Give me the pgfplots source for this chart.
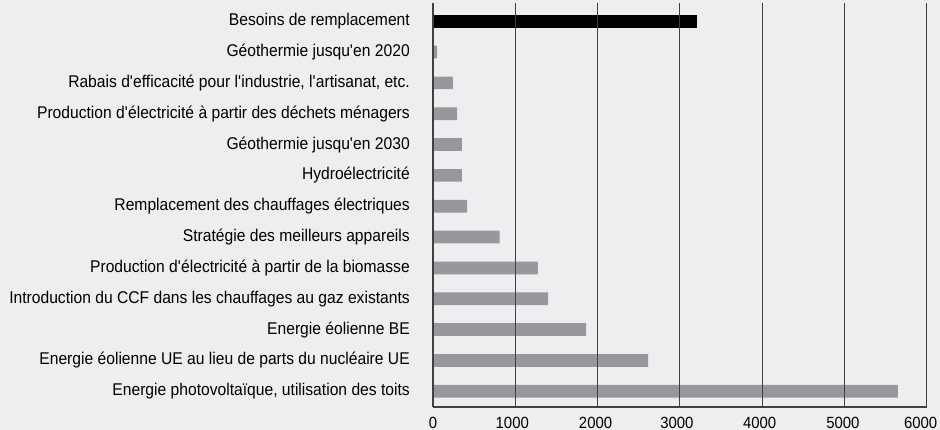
\documentclass[border=0pt]{standalone}
\usepackage{fontspec}
\setmainfont{Liberation Sans}[FakeStretch=0.92]
\usepackage{pgfplots}
\pgfplotsset{compat=1.18}
\definecolor{bg}{HTML}{EDEEF0}
\definecolor{barg}{HTML}{98979C}
\definecolor{gridc}{HTML}{404040}
\newcommand{\q}{\textquotesingle}
\begin{document}
\begin{tikzpicture}[x=1pt,y=1pt]
\fill[bg] (0,0) rectangle (940,430);
\begin{axis}[
  at={(433pt,23pt)}, anchor=south west,
  width=493.7pt, height=404pt, scale only axis,
  axis on top,
  xbar, bar width=12.7pt, bar shift=0pt,
  xmin=0, xmax=6000, ymin=-0.51, ymax=12.59,
  xtick={0,1000,2000,3000,4000,5000,6000},
  xticklabels={0,{\hspace*{-6pt}1000},{\hspace*{-4pt}2000},{\hspace*{-6pt}3000},
    {\hspace*{-5pt}4000},{\hspace*{-3pt}5000},{\hspace*{-12pt}6000}},
  ytick={0,...,12},
  yticklabels={{Energie photovoltaïque, utilisation des toits},
    {Energie éolienne UE au lieu de parts du nucléaire UE},
    {Energie éolienne BE},
    {Introduction du CCF dans les chauffages au gaz existants},
    {Production d\q{}électricité à partir de la biomasse},
    {Stratégie des meilleurs appareils},
    {Remplacement des chauffages électriques},
    {Hydroélectricité},
    {Géothermie jusqu\q{}en 2030},
    {Production d\q{}électricité à partir des déchets ménagers},
    {Rabais d\q{}efficacité pour l\q{}industrie, l\q{}artisanat, etc.},
    {Géothermie jusqu\q{}en 2020},
    {Besoins de remplacement}},
  major tick length=0pt,
  axis x line*=bottom, axis y line*=left,
  axis line style={-, draw=gridc, line width=1.2pt},
  xmajorgrids, grid style={draw=gridc, line width=1.2pt},
  tick label style={text=black},
  yticklabel style={font=\fontsize{17}{19}\selectfont, anchor=east, inner sep=0pt, xshift=-23pt},
  xticklabel style={font=\fontsize{16.2}{18}\selectfont, anchor=north, inner sep=0pt, yshift=-9.5pt},
  clip=false,
]
\addplot[draw=none, fill=barg] coordinates {
  (5650,0) (2615,1) (1860,2) (1400,3) (1275,4) (810,5) (415,6)
  (350,7) (350,8) (292,9) (243,10) (49,11)};
\addplot[draw=none, fill=black] coordinates {(3210,12)};
\end{axis}
\pgfresetboundingbox
\path (0,0) rectangle (940,430);
\end{tikzpicture}
\end{document}
